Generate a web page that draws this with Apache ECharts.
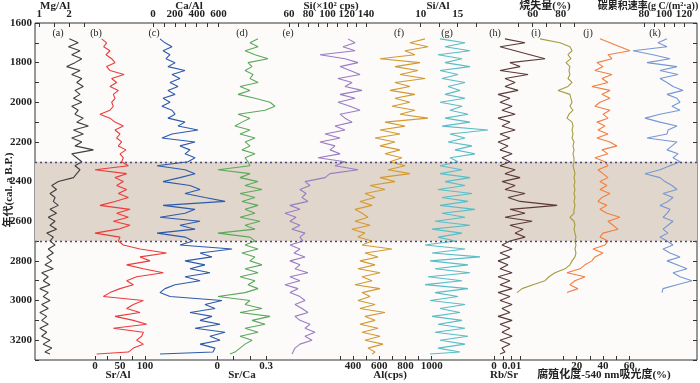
<!DOCTYPE html>
<html>
<head>
<meta charset="utf-8">
<script src="https://cdn.jsdelivr.net/npm/echarts@6/dist/echarts.min.js"></script>
<style>
  html, body { margin: 0; padding: 0; background: #fff; }
  #chart { width: 700px; height: 383px; }
</style>
</head>
<body>
<div id="chart"></div>
<script>
// ages (cal. a B.P.) for the full-length records
const ages = [
  1680, 1700, 1720, 1740, 1760, 1780, 1800, 1820, 1840, 1860,
  1880, 1900, 1920, 1940, 1960, 1980, 2000, 2020, 2040, 2060,
  2080, 2100, 2120, 2140, 2160, 2180, 2200, 2220, 2240, 2260,
  2280, 2300, 2320, 2340, 2360, 2380, 2400, 2420, 2440, 2460,
  2480, 2500, 2520, 2540, 2560, 2580, 2600, 2620, 2640, 2660,
  2680, 2700, 2720, 2740, 2760, 2780, 2800, 2820, 2840, 2860,
  2880, 2900, 2920, 2940, 2960, 2980, 3000, 3020, 3040, 3060,
  3080, 3100, 3120, 3140, 3160, 3180, 3200, 3220, 3240, 3260,
  3270
];

const mgAl = [
  2.01, 2.31, 1.98, 2.37, 2.09, 2.43, 2.20, 1.92, 2.37, 2.09,
  2.43, 2.26, 2.48, 2.20, 2.37, 2.15, 2.43, 2.09, 2.31, 2.20,
  2.48, 2.26, 2.65, 2.15, 2.48, 2.09, 2.43, 2.20, 2.82, 2.09,
  2.26, 2.43, 2.20, 2.37, 2.26, 2.15, 1.64, 1.42, 1.58, 1.36,
  1.53, 1.47, 1.64, 1.36, 1.58, 1.30, 1.53, 1.36, 1.58, 1.25,
  1.47, 1.36, 1.53, 1.30, 1.47, 1.25, 1.42, 1.19, 1.47, 1.08,
  1.30, 1.13, 1.36, 1.02, 1.30, 1.13, 1.36, 1.08, 1.30, 1.02,
  1.25, 1.08, 1.30, 1.02, 1.25, 1.08, 1.36, 1.13, 1.42, 1.19,
  1.36
];
const srAl = [
  13.3, 23.3, 17.3, 30, 22, 33.3, 40, 23.3, 30, 58,
  33.3, 43.3, 30, 46.7, 36.7, 40, 33.3, 36.7, 30, 10,
  30, 40, 56.7, 40, 50, 43.3, 53.3, 46.7, 62, 50,
  56.7, 53.3, 66.7, 0, 63.3, 40, 56.7, 43.3, 63.3, 46.7,
  66.7, 40, 10, 70, 43.3, 66.7, 36.7, 70, 46.7, 0,
  50, 46.7, 56.7, 90, 143, 90, 110, 63.3, 96.7, 136.7,
  83.3, 63.3, 76.7, 50, 30, 16.7, 96.7, 76.7, 63.3, 90,
  40, 76.7, 103.3, 36.7, 96.7, 93.3, 83.3, 96.7, 76.7, 66.7,
  3.3
];
const caAl = [
  64, 110, 174, 92, 156, 119, 202, 137, 293, 174,
  247, 156, 229, 137, 202, 92, 156, 82, 174, 202,
  137, 293, 229, 412, 174, 82, 385, 247, 339, 293,
  385, 321, 37, 293, 385, 247, 92, 339, 431, 293,
  476, 660, 92, 385, 293, 64, 431, 247, 385, 37,
  293, 366, 247, 724, 431, 540, 293, 476, 339, 522,
  293, 431, 202, 110, 64, 156, 632, 476, 568, 339,
  540, 431, 614, 385, 660, 522, 614, 431, 568, 550,
  64
];
const srCa = [
  0.251, 0.201, 0.251, 0.171, 0.232, 0.312, 0.189, 0.214, 0.171, 0.220,
  0.201, 0.251, 0.140, 0.201, 0.128, 0.232, 0.325, 0.355, 0.294, 0.128,
  0.201, 0.152, 0.109, 0.201, 0.140, 0.232, 0.171, 0.201, 0.152, 0.232,
  0.171, 0.189, 0.201, 0.004, 0.201, 0.140, 0.251, 0.171, 0.275, 0.140,
  0.232, 0.152, 0.251, 0.171, 0.232, 0.140, 0.263, 0.171, 0.232, 0.004,
  0.201, 0.232, 0.171, 0.251, 0.152, 0.232, 0.201, 0.275, 0.171, 0.251,
  0.140, 0.232, 0.189, 0.251, 0.171, 0.004, 0.201, 0.171, 0.275, 0.140,
  0.325, 0.214, 0.294, 0.171, 0.251, 0.140, 0.214, 0.171, 0.140, 0.109,
  0.078
];
const si = [
  121.3, 128.6, 116.1, 128.6, 92.2, 118.2, 131.7, 113, 123.4, 133.8,
  110.9, 125.5, 118.2, 135.8, 113, 128.6, 110.9, 123.4, 133.8, 113,
  118.2, 125.5, 107.8, 118.2, 97.4, 113, 92.2, 107.8, 102.6, 113,
  90.1, 118.2, 107.8, 131.7, 102.6, 97.4, 76.6, 81.8, 71.4, 77.7,
  73.5, 79.7, 61, 71.4, 55.8, 67.3, 61, 71.4, 63.1, 76.6,
  71.4, 74.5, 61, 71.4, 65.2, 76.6, 61, 71.4, 66.2, 79.7,
  61, 71.4, 55.8, 69.4, 61, 71.4, 76.6, 66.2, 73.5, 79.7,
  66.2, 71.4, 81.8, 76.6, 87, 76.6, 83.9, 71.4, 66.2, 64.2,
  63.1
];
const al = [
  949, 834, 972, 796, 872, 606, 911, 720, 895, 758,
  949, 720, 834, 682, 872, 720, 834, 697, 872, 758,
  972, 644, 796, 606, 758, 568, 720, 606, 758, 644,
  773, 682, 796, 667, 834, 606, 720, 530, 644, 491,
  568, 453, 545, 415, 469, 514, 415, 530, 392, 491,
  438, 545, 469, 697, 491, 591, 453, 568, 438, 606,
  469, 545, 415, 606, 469, 530, 438, 568, 453, 644,
  491, 568, 453, 591, 469, 606, 491, 629, 514, 568,
  545
];
const siAl = [
  12.61, 15.99, 13.28, 16.66, 12.34, 15.58, 13.28, 16.66, 12.61, 15.04,
  12.88, 15.99, 13.69, 15.31, 13.28, 15.99, 12.61, 15.58, 13.96, 16.39,
  13.28, 16.66, 12.88, 19.09, 13.96, 15.99, 13.69, 16.93, 14.64, 17.34,
  13.96, 15.04, 12.61, 15.58, 12.61, 16.66, 13.28, 15.99, 12.34, 16.93,
  12.88, 16.39, 12.61, 17.34, 12.88, 15.99, 11.93, 16.66, 11.53, 15.58,
  12.34, 14.64, 10.58, 15.99, 11.53, 18.01, 11.26, 16.39, 11.93, 16.66,
  10.99, 15.58, 10.58, 16.39, 11.93, 15.04, 11.26, 15.99, 12.61, 15.31,
  11.53, 15.58, 12.34, 15.99, 11.93, 16.39, 12.61, 15.99, 12.34, 15.31,
  11.26
];
const rbSr = [
  0.0062, 0.0175, 0.0034, 0.0119, 0.0203, 0.0288, 0.0090, 0.0147, 0.0034, 0.0192,
  0.0062, 0.0119, 0.0062, 0.0136, 0.0023, 0.0090, 0.0034, 0.0102, 0.0045, 0.0119,
  0.0023, 0.0090, 0.0045, 0.0119, 0.0034, 0.0090, 0.0023, 0.0079, 0.0034, 0.0102,
  0.0045, 0.0090, 0.0034, 0.0119, 0.0062, 0.0147, 0.0045, 0.0119, 0.0062, 0.0175,
  0.0079, 0.0147, 0.0356, 0.0090, 0.0175, 0.0062, 0.0215, 0.0090, 0.0164, 0.0119,
  0.0175, 0.0090, 0.0045, 0.0102, 0.0034, 0.0090, 0.0023, 0.0079, 0.0034, 0.0102,
  0.0023, 0.0090, 0.0034, 0.0102, 0.0023, 0.0090, 0.0034, 0.0102, 0.0045, 0.0090,
  0.0023, 0.0102, 0.0034, 0.0090, 0.0045, 0.0102, 0.0034, 0.0090, 0.0045, 0.0062,
  0.0034
];
// these three records stop at 2960 a B.P.
const loi = [
  65.2, 79.5, 86.6, 88.1, 85.2, 87.3, 83.8, 86.6, 85.9, 86.6,
  85.2, 88.1, 85.2, 78.1, 86.6, 87.3, 88.1, 86.6, 88.8, 85.9,
  84.5, 88.1, 88.8, 88.1, 88.8, 88.1, 89.5, 88.8, 89.5, 88.8,
  89.5, 89.5, 88.8, 89.5, 90.2, 89.5, 90.2, 89.5, 90.2, 89.5,
  90.2, 89.5, 90.2, 89.5, 89.5, 86.6, 89.5, 90.2, 89.5, 90.2,
  90.9, 90.2, 90.9, 90.2, 90.9, 90.2, 88.1, 86.6, 83.1, 75.9,
  71.6, 68.8, 60.2, 52.4, 48.8
];
const humif = [
  37.7, 45.3, 52.9, 60.5, 43.8, 46.8, 35.4, 40, 33.9, 46.8,
  39.2, 43.8, 31.6, 45.3, 39.2, 45.3, 37.7, 33.9, 45.3, 40,
  43.8, 35.4, 41.5, 36.2, 43.8, 35.4, 45.3, 50.6, 39.2, 43.8,
  33.9, 41.5, 43.8, 36.2, 40, 43.8, 37.7, 43, 37.7, 45.3,
  39.2, 36.2, 43, 37.7, 43, 52.9, 43.8, 47.6, 51.4, 40,
  37.7, 43.8, 41.5, 32.4, 40, 33.9, 31.6, 26.3, 22.5, 12.6,
  26.3, 18.7, 14.9, 21, 12.6
];
const carbon = [
  103, 94, 103, 69, 89, 106, 83, 113, 96, 114,
  96, 103, 109, 119, 103, 113, 116, 108, 116, 96,
  81, 96, 113, 104, 103, 83, 113, 108, 103, 114,
  109, 116, 106, 96, 81, 96, 101, 108, 113, 99,
  109, 104, 96, 106, 103, 99, 109, 104, 99, 104,
  96, 103, 109, 99, 106, 116, 103, 113, 123, 109,
  116, 128, 113, 99, 98
];

const bandFrom = 2300, bandTo = 2700;
const ageMin = 1600, ageMax = 3300;

const SERIF = '"Liberation Serif", "Noto Sans CJK SC", serif';
const TOP = 23, HEIGHT = 337, LEFT = 35, WIDTH = 662;

// one track per record; tick range [min, max] sits at pixel span px
const panels = [
  { data: mgAl,   color: '#3f3f3f', pos: 'top',    min: 1,   max: 2.5,   interval: 0.5,   px: [39.3, 83.9],  labels: [1, 2] },
  { data: srAl,   color: '#ec3b3b', pos: 'bottom', min: 0,   max: 100,   interval: 25,    px: [95, 145],     labels: [0, 50, 100] },
  { data: caAl,   color: '#2d5aab', pos: 'top',    min: 0,   max: 600,   interval: 100,   px: [153, 218.5],  labels: [0, 200, 400, 600] },
  { data: srCa,   color: '#5ca85c', pos: 'bottom', min: 0,   max: 0.3,   interval: 0.1,   px: [217.3, 266],  labels: [0, 0.3] },
  { data: si,     color: '#9a7cc4', pos: 'top',    min: 60,  max: 140,   interval: 10,    px: [289, 366],    labels: [60, 80, 100, 120, 140] },
  { data: al,     color: '#d39a32', pos: 'bottom', min: 300, max: 1000,  interval: 100,   px: [339.9, 431.7], labels: [400, 600, 800, 1000] },
  { data: siAl,   color: '#5bbdc7', pos: 'top',    min: 10,  max: 17.5,  interval: 2.5,   px: [420.7, 476.2], labels: [10, 15] },
  { data: rbSr,   color: '#5b3937', pos: 'bottom', min: 0,   max: 0.015, interval: 0.005, px: [494, 520.6],  labels: [0, 0.01] },
  { data: loi,    color: '#a69c3e', pos: 'top',    min: 50,  max: 90,    interval: 10,    px: [518.7, 574.7], labels: [60, 80] },
  { data: humif,  color: '#f57d3d', pos: 'bottom', min: 10,  max: 60,    interval: 10,    px: [563.5, 629.3], labels: [20, 40, 60] },
  { data: carbon, color: '#7797d3', pos: 'top',    min: 80,  max: 120,   interval: 10,    px: [644, 684],    labels: [80, 100, 120] }
];

const topTitles = [
  ['Mg/Al', 55, 11], ['Ca/Al', 189, 11], ['Si(×10² cps)', 331, 11], ['Si/Al', 438, 11],
  ['烧失量(%)', 545, 11], ['碳累积速率(g C/(m²·a))', 648, 10]
];
const bottomTitles = [
  ['Sr/Al', 118, 11], ['Sr/Ca', 242, 11], ['Al(cps)', 390, 11], ['Rb/Sr', 504, 11],
  ['腐殖化度-540 nm吸光度(%)', 604, 11]
];
const letters = [
  ['(a)', 58], ['(b)', 96], ['(c)', 154], ['(d)', 242], ['(e)', 288], ['(f)', 399],
  ['(g)', 447], ['(h)', 495], ['(i)', 536], ['(j)', 588], ['(k)', 655]
];

const chart = echarts.init(document.getElementById('chart'), null, { renderer: 'canvas' });

const grids = [{
  left: LEFT, top: TOP, width: WIDTH, height: HEIGHT,
  show: true, backgroundColor: '#fcfbfa', borderColor: '#333', borderWidth: 1
}];
const xAxes = [{ gridIndex: 0, type: 'value', min: 0, max: 1, show: false }];
const yAxes = [
  {
    gridIndex: 0, type: 'value', inverse: true, min: ageMin, max: ageMax, interval: 100,
    position: 'left',
    axisLine: { show: false },
    axisTick: { inside: true, length: 4, lineStyle: { color: '#333' } },
    axisLabel: {
      formatter: v => (v % 200 === 0 && v < ageMax ? String(v) : ''),
      fontFamily: SERIF, fontWeight: 'bold', fontSize: 11, color: '#222', margin: 3
    },
    splitLine: { show: false }
  },
  {
    gridIndex: 0, type: 'value', inverse: true, min: ageMin, max: ageMax, interval: 100,
    position: 'right',
    axisLine: { show: false },
    axisTick: { inside: true, length: 4, lineStyle: { color: '#333' } },
    axisLabel: { show: false },
    splitLine: { show: false }
  }
];

const series = [{
  type: 'line', xAxisIndex: 0, yAxisIndex: 0,
  data: [[0, ageMin]], symbol: 'none', lineStyle: { opacity: 0 }, silent: true,
  markArea: {
    silent: true,
    itemStyle: { color: '#e0d6cb' },
    data: [[{ yAxis: bandFrom }, { yAxis: bandTo }]]
  },
  markLine: {
    silent: true, symbol: 'none', label: { show: false },
    lineStyle: { color: '#4a4a7c', type: [2, 3], width: 1.3 },
    data: [{ yAxis: bandFrom }, { yAxis: bandTo }]
  }
}];

panels.forEach((p, i) => {
  const g = i + 1;
  // every track spans the whole frame; stretch its axis so the ticks land on px
  const perPx = (p.max - p.min) / (p.px[1] - p.px[0]);
  const axMin = p.min - (p.px[0] - LEFT) * perPx;
  const axMax = p.min + (LEFT + WIDTH - p.px[0]) * perPx;
  const ticks = [];
  const n = Math.round((p.max - p.min) / p.interval);
  for (let k = 0; k <= n; k++) ticks.push(+(p.min + k * p.interval).toFixed(6));

  grids.push({ left: LEFT, top: TOP, width: WIDTH, height: HEIGHT });
  xAxes.push({
    gridIndex: g, type: 'value', position: p.pos,
    min: axMin, max: axMax,
    axisLine: { show: false },
    axisTick: { inside: true, length: 4, customValues: ticks, lineStyle: { color: '#333' } },
    axisLabel: {
      customValues: p.labels,
      formatter: v => String(+v.toFixed(6)),
      hideOverlap: false,
      fontFamily: SERIF, fontWeight: 'bold', fontSize: 11, color: '#222',
      margin: p.pos === 'top' ? 3 : 1
    },
    splitLine: { show: false }
  });
  yAxes.push({ gridIndex: g, type: 'value', inverse: true, min: ageMin, max: ageMax, show: false });
  series.push({
    type: 'line', xAxisIndex: g, yAxisIndex: i + 2,
    data: p.data.map((v, k) => [v, ages[k]]),
    symbol: 'none', silent: true,
    lineStyle: { color: p.color, width: 1.1 }
  });
});

const graphic = [];
const addText = (t, x, y, font) => graphic.push({
  type: 'text', x: x, y: y,
  style: { text: t, font: font, fill: '#222', align: 'center', verticalAlign: 'middle', textAlign: 'center', textVerticalAlign: 'middle' }
});
topTitles.forEach(([t, x, s]) => addText(t, x, 6, 'bold ' + s + 'px ' + SERIF));
bottomTitles.forEach(([t, x, s]) => addText(t, x, 375, 'bold ' + s + 'px ' + SERIF));
letters.forEach(([t, x]) => addText(t, x, 33, '10px ' + SERIF));
graphic.push({
  type: 'text', x: 9, y: 190, rotation: Math.PI / 2,
  style: { text: '年代(cal. a B.P.)', font: 'bold 11px ' + SERIF, fill: '#222', align: 'center', verticalAlign: 'middle', textAlign: 'center', textVerticalAlign: 'middle' }
});

chart.setOption({
  animation: false,
  backgroundColor: '#ffffff',
  grid: grids,
  xAxis: xAxes,
  yAxis: yAxes,
  series: series,
  graphic: graphic
});
</script>
</body>
</html>
